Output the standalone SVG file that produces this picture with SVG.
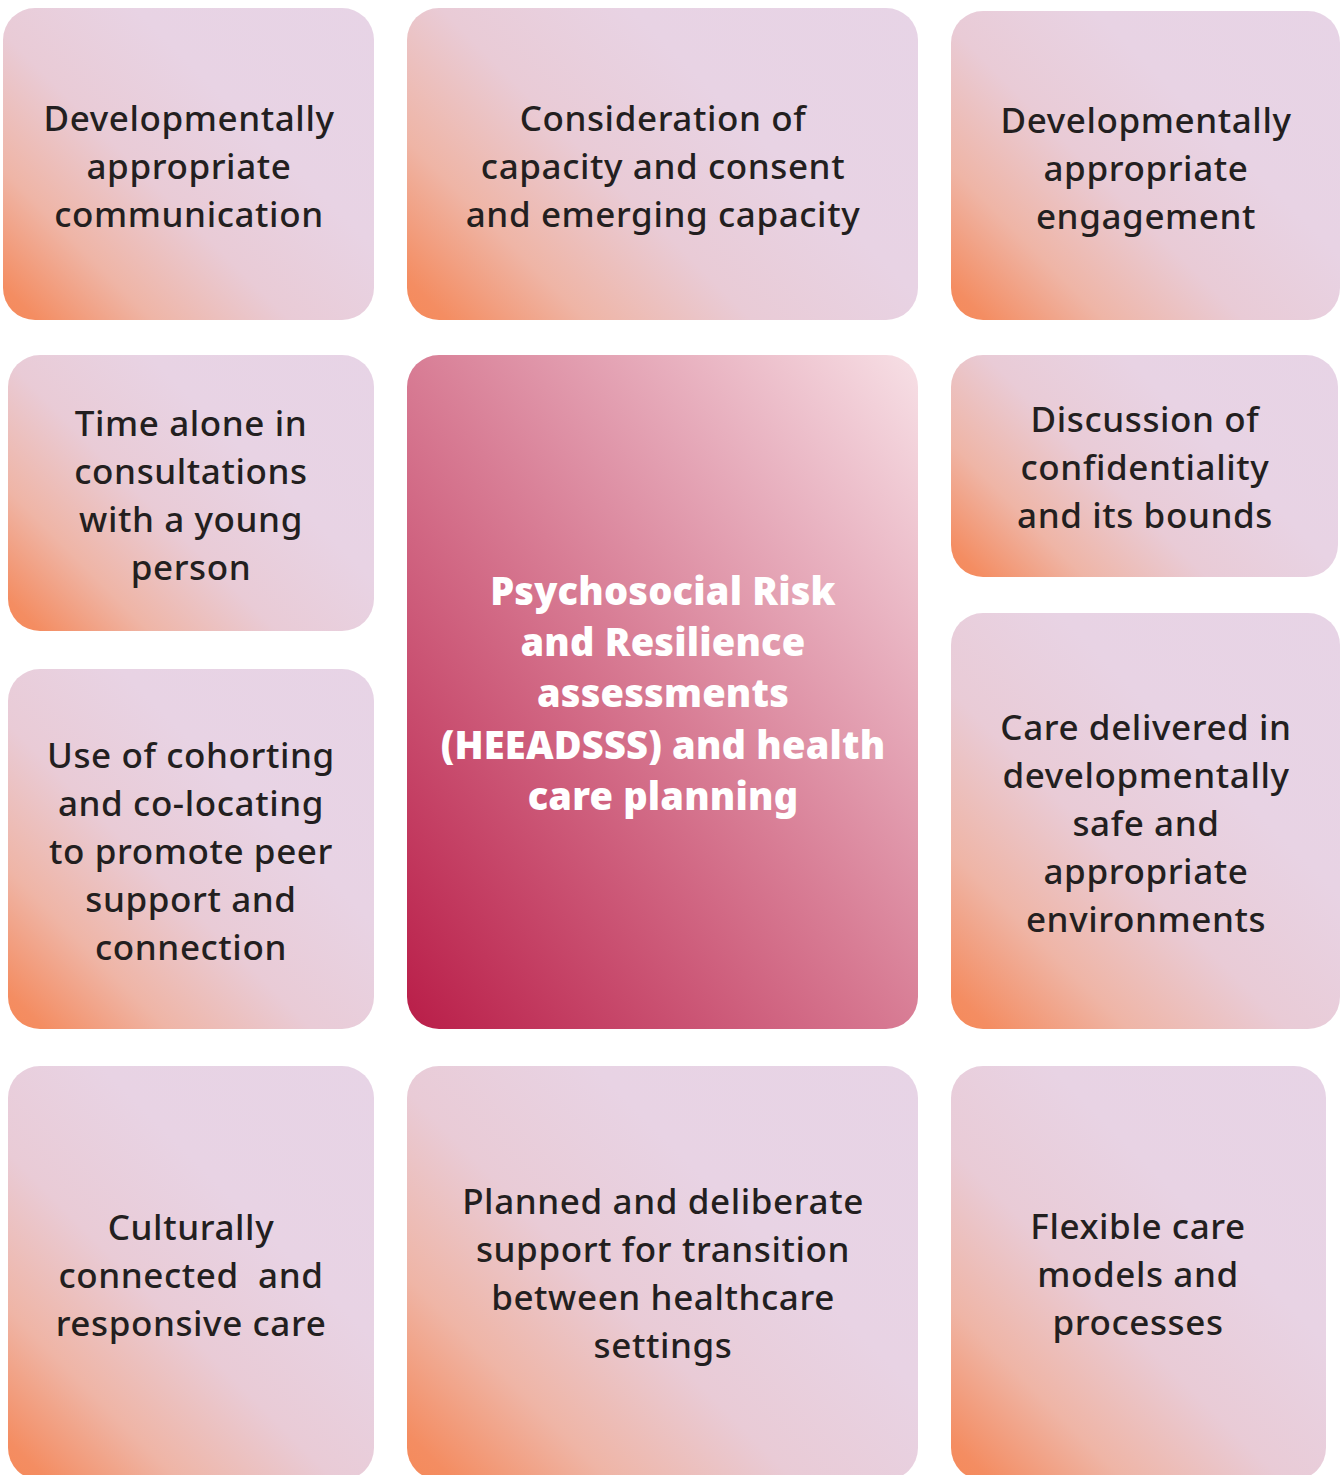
<svg xmlns="http://www.w3.org/2000/svg" width="1343" height="1475" viewBox="0 0 1343 1475">
  <defs>
    <!-- shared stops: warm orange glow fading into lavender -->
    <linearGradient id="tileStops">
      <stop offset="0" stop-color="#f58a5a"/>
      <stop offset="0.05" stop-color="#f48d62"/>
      <stop offset="0.22" stop-color="#efb5a6"/>
      <stop offset="0.42" stop-color="#e9cbd6"/>
      <stop offset="0.65" stop-color="#e8d3e4"/>
      <stop offset="1" stop-color="#e7d4e6"/>
    </linearGradient>
    <!-- one 45° ramp per tile, running from its lower-left corner -->
    <linearGradient id="g-communication" href="#tileStops" gradientUnits="userSpaceOnUse" x1="3" y1="320" x2="344.5" y2="-21.5"/>
    <linearGradient id="g-consent" href="#tileStops" gradientUnits="userSpaceOnUse" x1="407" y1="320" x2="818.5" y2="-91.5"/>
    <linearGradient id="g-engagement" href="#tileStops" gradientUnits="userSpaceOnUse" x1="951" y1="320" x2="1300" y2="-29"/>
    <linearGradient id="g-time" href="#tileStops" gradientUnits="userSpaceOnUse" x1="8" y1="631" x2="329" y2="310"/>
    <linearGradient id="g-confid" href="#tileStops" gradientUnits="userSpaceOnUse" x1="951" y1="577" x2="1255.5" y2="272.5"/>
    <linearGradient id="g-cohort" href="#tileStops" gradientUnits="userSpaceOnUse" x1="8" y1="1029" x2="371" y2="666"/>
    <linearGradient id="g-env" href="#tileStops" gradientUnits="userSpaceOnUse" x1="951" y1="1029" x2="1353.5" y2="626.5"/>
    <linearGradient id="g-cultural" href="#tileStops" gradientUnits="userSpaceOnUse" x1="8" y1="1480" x2="398" y2="1090"/>
    <linearGradient id="g-transition" href="#tileStops" gradientUnits="userSpaceOnUse" x1="407" y1="1480" x2="869.5" y2="1017.5"/>
    <linearGradient id="g-flexible" href="#tileStops" gradientUnits="userSpaceOnUse" x1="951" y1="1480" x2="1345.5" y2="1085.5"/>
    <!-- crimson-to-blush centre tile -->
    <linearGradient id="coreFill" x1="0" y1="1" x2="1" y2="0">
      <stop offset="0" stop-color="#b91d48"/>
      <stop offset="0.5" stop-color="#d87d95"/>
      <stop offset="1" stop-color="#f7e0e6"/>
    </linearGradient>
  </defs>
  <style>
    .core { fill: url(#coreFill); }
    .lbl { font-family: "Noto Sans", "Open Sans", sans-serif; font-size: 35px; font-weight: 500; fill: #231f20; text-anchor: middle; letter-spacing: 0.6px; white-space: pre; }
    .corelbl { font-family: "Noto Sans", "Open Sans", sans-serif; font-size: 38px; font-weight: 900; fill: #ffffff; text-anchor: middle; letter-spacing: 0.2px; }
  </style>

  <rect width="1343" height="1475" fill="#ffffff"/>

  <!-- no connectors in this layout -->
  <g id="connectors"/>

  <g id="node-communication">
    <rect fill="url(#g-communication)" x="3" y="8" width="371" height="312" rx="32"/>
    <text class="lbl"><tspan x="189" y="131">Developmentally</tspan><tspan x="189" y="179">appropriate</tspan><tspan x="189" y="227">communication</tspan></text>
  </g>

  <g id="node-consent">
    <rect fill="url(#g-consent)" x="407" y="8" width="511" height="312" rx="32"/>
    <text class="lbl"><tspan x="663" y="131">Consideration of</tspan><tspan x="663" y="179">capacity and consent</tspan><tspan x="663" y="227">and emerging capacity</tspan></text>
  </g>

  <g id="node-engagement">
    <rect fill="url(#g-engagement)" x="951" y="11" width="389" height="309" rx="32"/>
    <text class="lbl"><tspan x="1146" y="133">Developmentally</tspan><tspan x="1146" y="181">appropriate</tspan><tspan x="1146" y="229">engagement</tspan></text>
  </g>

  <g id="node-time-alone">
    <rect fill="url(#g-time)" x="8" y="355" width="366" height="276" rx="32"/>
    <text class="lbl"><tspan x="191" y="436">Time alone in</tspan><tspan x="191" y="484">consultations</tspan><tspan x="191" y="532">with a young</tspan><tspan x="191" y="580">person</tspan></text>
  </g>

  <g id="node-core">
    <rect class="core" x="407" y="355" width="511" height="674" rx="32"/>
    <text class="corelbl"><tspan x="663" y="605">Psychosocial Risk</tspan><tspan x="663" y="656">and Resilience</tspan><tspan x="663" y="707">assessments</tspan><tspan x="663" y="759">(HEEADSSS) and health</tspan><tspan x="663" y="810">care planning</tspan></text>
  </g>

  <g id="node-confidentiality">
    <rect fill="url(#g-confid)" x="951" y="355" width="387" height="222" rx="32"/>
    <text class="lbl"><tspan x="1145" y="432">Discussion of</tspan><tspan x="1145" y="480">confidentiality</tspan><tspan x="1145" y="528">and its bounds</tspan></text>
  </g>

  <g id="node-cohorting">
    <rect fill="url(#g-cohort)" x="8" y="669" width="366" height="360" rx="32"/>
    <text class="lbl"><tspan x="191" y="768">Use of cohorting</tspan><tspan x="191" y="816">and co-locating</tspan><tspan x="191" y="864">to promote peer</tspan><tspan x="191" y="912">support and</tspan><tspan x="191" y="960">connection</tspan></text>
  </g>

  <g id="node-environments">
    <rect fill="url(#g-env)" x="951" y="613" width="389" height="416" rx="32"/>
    <text class="lbl"><tspan x="1146" y="740">Care delivered in</tspan><tspan x="1146" y="788">developmentally</tspan><tspan x="1146" y="836">safe and</tspan><tspan x="1146" y="884">appropriate</tspan><tspan x="1146" y="932">environments</tspan></text>
  </g>

  <g id="node-cultural">
    <rect fill="url(#g-cultural)" x="8" y="1066" width="366" height="414" rx="32"/>
    <text class="lbl" xml:space="preserve"><tspan x="191" y="1240">Culturally</tspan><tspan x="191" y="1288">connected  and</tspan><tspan x="191" y="1336">responsive care</tspan></text>
  </g>

  <g id="node-transition">
    <rect fill="url(#g-transition)" x="407" y="1066" width="511" height="414" rx="32"/>
    <text class="lbl"><tspan x="663" y="1214">Planned and deliberate</tspan><tspan x="663" y="1262">support for transition</tspan><tspan x="663" y="1310">between healthcare</tspan><tspan x="663" y="1358">settings</tspan></text>
  </g>

  <g id="node-flexible">
    <rect fill="url(#g-flexible)" x="951" y="1066" width="375" height="414" rx="32"/>
    <text class="lbl"><tspan x="1138" y="1239">Flexible care</tspan><tspan x="1138" y="1287">models and</tspan><tspan x="1138" y="1335">processes</tspan></text>
  </g>
</svg>
